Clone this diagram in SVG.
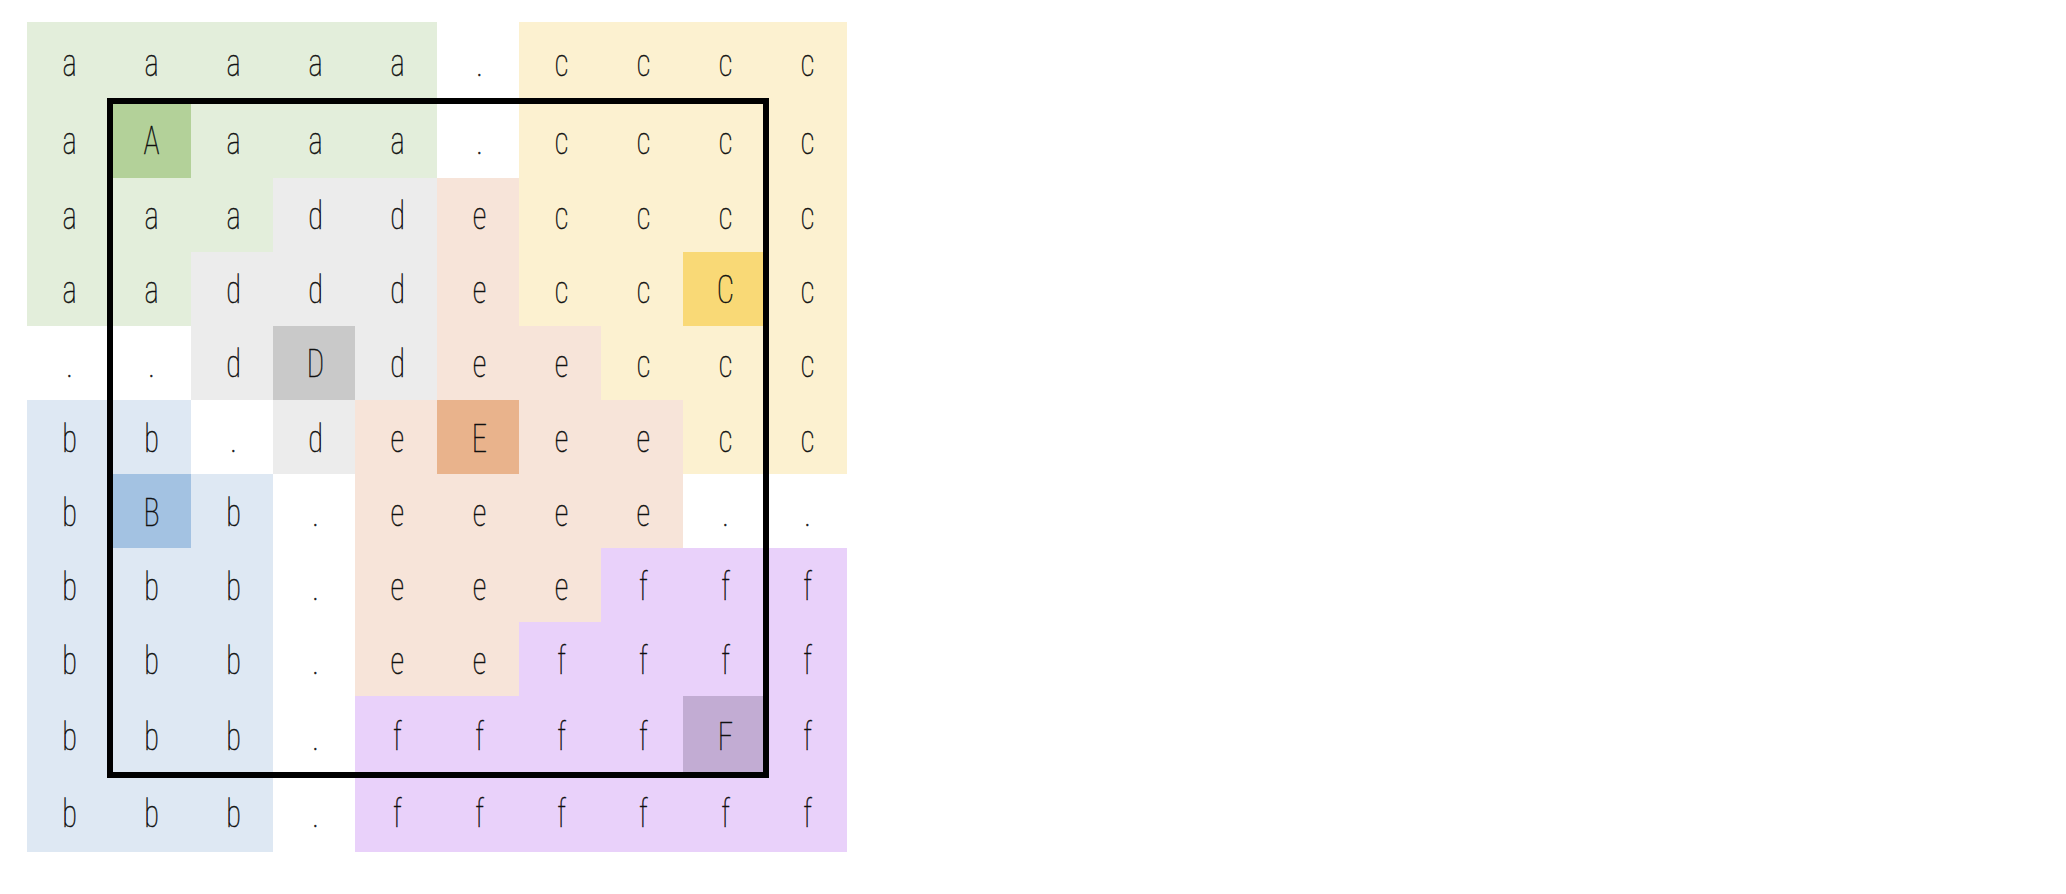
<svg xmlns="http://www.w3.org/2000/svg" width="2066" height="894" viewBox="0 0 2066 894">
<style>
text{font-family:"Roboto Condensed",Roboto,"Liberation Sans",sans-serif;font-weight:100;font-size:38px;fill:#111;stroke:#111;stroke-width:0.5px;text-anchor:middle}
.a{fill:#e3eedb}.A{fill:#b3d199}
.c{fill:#fcf1d0}.C{fill:#f9d976}
.d{fill:#ececec}.D{fill:#c9c9c9}
.e{fill:#f7e4d9}.E{fill:#e9b38c}
.b{fill:#dee8f3}.B{fill:#a3c2e2}
.f{fill:#e9d1fa}.F{fill:#c2acd3}
</style>
<rect width="2066" height="894" fill="#fff"/>
<g id="area-a">
<rect class="a" x="27" y="22" width="410" height="156"/>
<rect class="a" x="27" y="178" width="246" height="74"/>
<rect class="a" x="27" y="252" width="164" height="74"/>
<rect class="A" x="109" y="102" width="82" height="76"/>
<g transform="scale(0.8,1)">
<text x="86.88" y="76">a</text><text x="189.38" y="76">a</text><text x="291.88" y="76">a</text><text x="394.38" y="76">a</text><text x="496.88" y="76">a</text>
<text x="86.88" y="154">a</text><text x="189.38" y="154">A</text><text x="291.88" y="154">a</text><text x="394.38" y="154">a</text><text x="496.88" y="154">a</text>
<text x="86.88" y="229">a</text><text x="189.38" y="229">a</text><text x="291.88" y="229">a</text>
<text x="86.88" y="303">a</text><text x="189.38" y="303">a</text>
</g>
</g>
<g id="area-c">
<rect class="c" x="519" y="22" width="328" height="304"/>
<rect class="c" x="601" y="326" width="246" height="74"/>
<rect class="c" x="683" y="400" width="164" height="74"/>
<rect class="C" x="683" y="252" width="82" height="74"/>
<g transform="scale(0.8,1)">
<text x="701.88" y="76">c</text><text x="804.38" y="76">c</text><text x="906.88" y="76">c</text><text x="1009.38" y="76">c</text>
<text x="701.88" y="154">c</text><text x="804.38" y="154">c</text><text x="906.88" y="154">c</text><text x="1009.38" y="154">c</text>
<text x="701.88" y="229">c</text><text x="804.38" y="229">c</text><text x="906.88" y="229">c</text><text x="1009.38" y="229">c</text>
<text x="701.88" y="303">c</text><text x="804.38" y="303">c</text><text x="906.88" y="303">C</text><text x="1009.38" y="303">c</text>
<text x="804.38" y="377">c</text><text x="906.88" y="377">c</text><text x="1009.38" y="377">c</text>
<text x="906.88" y="452">c</text><text x="1009.38" y="452">c</text>
</g>
</g>
<g id="area-d">
<rect class="d" x="273" y="178" width="164" height="74"/>
<rect class="d" x="191" y="252" width="246" height="148"/>
<rect class="d" x="273" y="400" width="82" height="74"/>
<rect class="D" x="273" y="326" width="82" height="74"/>
<g transform="scale(0.8,1)">
<text x="394.38" y="229">d</text><text x="496.88" y="229">d</text>
<text x="291.88" y="303">d</text><text x="394.38" y="303">d</text><text x="496.88" y="303">d</text>
<text x="291.88" y="377">d</text><text x="394.38" y="377">D</text><text x="496.88" y="377">d</text>
<text x="394.38" y="452">d</text>
</g>
</g>
<g id="area-e">
<rect class="e" x="437" y="178" width="82" height="148"/>
<rect class="e" x="437" y="326" width="164" height="74"/>
<rect class="e" x="355" y="400" width="328" height="148"/>
<rect class="e" x="355" y="548" width="246" height="74"/>
<rect class="e" x="355" y="622" width="164" height="74"/>
<rect class="E" x="437" y="400" width="82" height="74"/>
<g transform="scale(0.8,1)">
<text x="599.38" y="229">e</text>
<text x="599.38" y="303">e</text>
<text x="599.38" y="377">e</text><text x="701.88" y="377">e</text>
<text x="496.88" y="452">e</text><text x="599.38" y="452">E</text><text x="701.88" y="452">e</text><text x="804.38" y="452">e</text>
<text x="496.88" y="526">e</text><text x="599.38" y="526">e</text><text x="701.88" y="526">e</text><text x="804.38" y="526">e</text>
<text x="496.88" y="600">e</text><text x="599.38" y="600">e</text><text x="701.88" y="600">e</text>
<text x="496.88" y="674">e</text><text x="599.38" y="674">e</text>
</g>
</g>
<g id="area-b">
<rect class="b" x="27" y="400" width="164" height="74"/>
<rect class="b" x="27" y="474" width="246" height="378"/>
<rect class="B" x="109" y="474" width="82" height="74"/>
<g transform="scale(0.8,1)">
<text x="86.88" y="452">b</text><text x="189.38" y="452">b</text>
<text x="86.88" y="526">b</text><text x="189.38" y="526">B</text><text x="291.88" y="526">b</text>
<text x="86.88" y="600">b</text><text x="189.38" y="600">b</text><text x="291.88" y="600">b</text>
<text x="86.88" y="674">b</text><text x="189.38" y="674">b</text><text x="291.88" y="674">b</text>
<text x="86.88" y="750">b</text><text x="189.38" y="750">b</text><text x="291.88" y="750">b</text>
<text x="86.88" y="827">b</text><text x="189.38" y="827">b</text><text x="291.88" y="827">b</text>
</g>
</g>
<g id="area-f">
<rect class="f" x="601" y="548" width="246" height="74"/>
<rect class="f" x="519" y="622" width="328" height="74"/>
<rect class="f" x="355" y="696" width="492" height="156"/>
<rect class="F" x="683" y="696" width="82" height="80"/>
<g transform="scale(0.8,1)">
<text x="804.38" y="600">f</text><text x="906.88" y="600">f</text><text x="1009.38" y="600">f</text>
<text x="701.88" y="674">f</text><text x="804.38" y="674">f</text><text x="906.88" y="674">f</text><text x="1009.38" y="674">f</text>
<text x="496.88" y="750">f</text><text x="599.38" y="750">f</text><text x="701.88" y="750">f</text><text x="804.38" y="750">f</text><text x="906.88" y="750">F</text><text x="1009.38" y="750">f</text>
<text x="496.88" y="827">f</text><text x="599.38" y="827">f</text><text x="701.88" y="827">f</text><text x="804.38" y="827">f</text><text x="906.88" y="827">f</text><text x="1009.38" y="827">f</text>
</g>
</g>
<g id="empty-cells" transform="scale(0.8,1)">
<text x="599.38" y="76">.</text>
<text x="599.38" y="154">.</text>
<text x="86.88" y="377">.</text><text x="189.38" y="377">.</text>
<text x="291.88" y="452">.</text>
<text x="394.38" y="526">.</text><text x="906.88" y="526">.</text><text x="1009.38" y="526">.</text>
<text x="394.38" y="600">.</text>
<text x="394.38" y="674">.</text>
<text x="394.38" y="750">.</text>
<text x="394.38" y="827">.</text>
</g>
<g id="frame">
<rect x="110" y="101" width="656" height="674" fill="none" stroke="#000" stroke-width="6"/>
</g>
</svg>
